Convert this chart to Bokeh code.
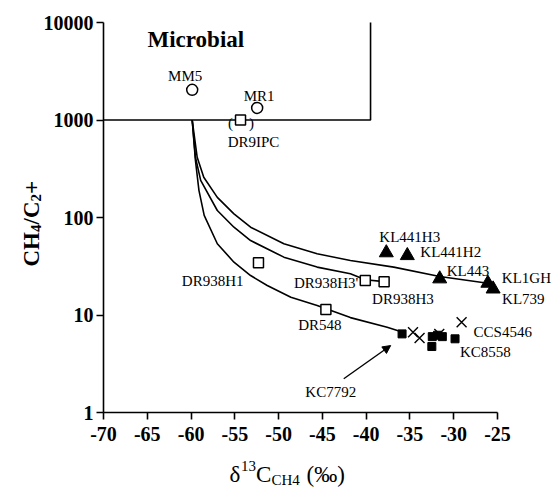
import math
from bokeh.plotting import figure
from bokeh.models import (FixedTicker, PrintfTickFormatter, Label, Arrow, NormalHead)
from bokeh.embed import file_html
from bokeh.resources import INLINE

# ---------------- data ----------------
x_ticks = [-70, -65, -60, -55, -50, -45, -40, -35, -30, -25]
y_ticks = [1, 10, 100, 1000, 10000]

# microbial field boundary
box_x = [-70, -39.5, -39.5]
box_y = [1000, 1000, 10000]

# mixing curves
lower_x = [-59.87, -59.5, -59.1, -58.5, -57.0, -55.1, -53.2, -51.3, -48.6, -45.6, -41.8, -37.6, -35.9]
lower_y = [1000, 384, 190, 105, 53.8, 34.8, 25.4, 20.1, 15.2, 12.5, 9.4, 7.5, 6.7]
middle_x = [-59.87, -59.5, -58.9, -57.0, -55.1, -53.2, -49.4, -45.6, -41.8, -40.1, -37.95]
middle_y = [1000, 415, 240, 118, 79.5, 58, 39.2, 31, 26.5, 23.0, 22.0]
upper_x = [-59.87, -59.3, -58.55, -57.0, -55.1, -53.2, -49.4, -45.6, -41.8, -36.85, -31.6, -26.1, -25.46]
upper_y = [1000, 415, 259, 161, 109, 79.5, 53.7, 42.4, 36.2, 31, 24.8, 21.2, 18.5]

circ_names = ["MM5", "MR1"]
circ_x = [-59.87, -52.45]
circ_y = [2040, 1330]

osq_names = ["DR9IPC", "DR938H1", "DR548", "DR938H3'", "DR938H3"]
osq_x = [-54.35, -52.3, -44.6, -40.1, -37.95]
osq_y = [1000, 34.3, 11.4, 22.6, 21.9]

tri_names = ["KL441H3", "KL441H2", "KL443", "KL1GH", "KL739"]
tri_x = [-37.7, -35.3, -31.6, -26.1, -25.5]
tri_y = [43.5, 40.7, 23.5, 21.2, 18.5]

fsq_x = [-35.9, -32.45, -31.85, -31.3, -32.5, -29.85]
fsq_y = [6.4, 6.0, 6.2, 6.0, 4.75, 5.7]

cross_x = [-34.65, -33.9, -31.65, -29.1]
cross_y = [6.66, 5.8, 6.4, 8.44]

# ---------------- geometry of the page ----------------
W, H = 555, 490
X0_PX, X1_PX = 103, 497      # pixel columns of -70 and -25
Y_TOP, Y_BOT = 22, 412       # pixel rows of 10000 and 1
PPU = (X1_PX - X0_PX) / 45.0
PPD = (Y_BOT - Y_TOP) / 4.0

def px2x(px):
    return -70 + (px - X0_PX) / PPU

def py2y(py):
    return 10 ** ((Y_BOT - py) / PPD)

SERIF = "Liberation Serif"
p = figure(width=W, height=H, x_range=(px2x(0), px2x(W)),
           y_range=(py2y(H), py2y(0)), y_axis_type="log",
           output_backend="svg", toolbar_location=None,
           min_border_left=0, min_border_right=0, min_border_top=0,
           min_border_bottom=0)
p.outline_line_color = None
p.xgrid.visible = False
p.ygrid.visible = False
p.background_fill_color = "white"
p.border_fill_color = "white"

for ax in (p.xaxis[0], p.yaxis[0]):
    ax.axis_line_width = 1.6
    ax.axis_line_color = "black"
    ax.major_tick_line_width = 1.6
    ax.major_tick_line_color = "black"
    ax.major_tick_out = 7
    ax.major_tick_in = 0
    ax.minor_tick_line_color = None
    ax.major_label_text_font = SERIF
    ax.major_label_text_font_style = "bold"
    ax.major_label_text_font_size = "20px"
    ax.major_label_text_color = "black"
    ax.formatter = PrintfTickFormatter(format="%d")
p.xaxis[0].ticker = FixedTicker(ticks=x_ticks)
p.yaxis[0].ticker = FixedTicker(ticks=y_ticks)
p.xaxis[0].fixed_location = 1
p.xaxis[0].bounds = (-70, -25)
p.yaxis[0].fixed_location = -70
p.yaxis[0].bounds = (1, 10000)
p.xaxis[0].major_label_standoff = 7
p.yaxis[0].major_label_standoff = 3

# microbial box
p.line(box_x, box_y, line_color="black", line_width=1.6)

# curves
for cx, cy in ((lower_x, lower_y), (middle_x, middle_y), (upper_x, upper_y)):
    p.line(cx, cy, line_color="black", line_width=1.6)

# markers
p.scatter(circ_x, circ_y, marker="circle", size=11, fill_color="white",
          line_color="black", line_width=1.5)
p.scatter(osq_x, osq_y, marker="square", size=10, fill_color="white",
          line_color="black", line_width=1.5)
p.scatter(tri_x, tri_y, marker="triangle", size=14, fill_color="black",
          line_color="black")
p.scatter(fsq_x, fsq_y, marker="square", size=8, fill_color="black",
          line_color="black")
p.scatter(cross_x, cross_y, marker="x", size=14, line_color="black",
          line_width=1.4)

# point labels: (dx px right, dy px down, align)
def lab(text, x, y, dx, dy, align="center", size="15px"):
    p.add_layout(Label(x=x, y=y, text=text, x_offset=dx, y_offset=-dy,
                       text_align=align, text_baseline="middle",
                       text_font=SERIF, text_font_size=size,
                       text_color="black"))

circ_off = [(-7, -14, "center"), (2, -12, "center")]
for n, x, y, o in zip(circ_names, circ_x, circ_y, circ_off):
    lab(n, x, y, *o)
osq_off = [(13, 22, "center"), (-15, 18, "right"), (-6, 16, "center"),
           (-7, 3, "right"), (-12, 17, "left")]
for n, x, y, o in zip(osq_names, osq_x, osq_y, osq_off):
    lab(n, x, y, *o)
tri_off = [(-7, -16, "left"), (13, -4, "left"), (7, -8, "left"),
           (14, -5, "left"), (9, 10, "left")]
for n, x, y, o in zip(tri_names, tri_x, tri_y, tri_off):
    lab(n, x, y, *o)
lab("CCS4546", cross_x[3], cross_y[3], 12, 10, "left")
lab("KC8558", fsq_x[5], fsq_y[5], 5, 13, "left")
# parentheses round DR9IPC
lab("(", osq_x[0], osq_y[0], -10, 3, "center")
lab(")", osq_x[0], osq_y[0], 11, 3, "center")

# KC7792 arrow
arrow_tail = (-42.56, 2.22)
arrow_head = (-37.2, 4.86)
p.add_layout(Arrow(x_start=arrow_tail[0], y_start=arrow_tail[1],
                   x_end=arrow_head[0], y_end=arrow_head[1],
                   line_color="black", line_width=1.4,
                   end=NormalHead(size=8, fill_color="black", line_color="black")))
lab("KC7792", arrow_tail[0], arrow_tail[1], -13, 13, "center")

# "Microbial"
p.add_layout(Label(x=px2x(147), y=py2y(39), text="Microbial", text_align="left",
                   text_baseline="middle", text_font=SERIF,
                   text_font_style="bold", text_font_size="23px",
                   text_color="black"))

# ---------------- axis titles (built from pieces) ----------------
# x title: δ13C_CH4 (‰)
xt_x, xt_y = px2x(229), py2y(474)
pieces = [("δ", "23px", 0, 0), ("13", "15px", 11.5, 9), ("C", "23px", 26.5, 0),
          ("CH4", "15px", 42, -5), ("(‰)", "23px", 77, 0)]
for t, s, dx, dy in pieces:
    p.add_layout(Label(x=xt_x, y=xt_y, text=t, x_offset=dx, y_offset=dy,
                       text_align="left", text_baseline="alphabetic",
                       text_font=SERIF, text_font_size=s, text_color="black"))

# y title: CH4/C2+ rotated
yt_x, yt_y = px2x(31), py2y(266)
ypieces = [("CH", "23px", 0, 0), ("4", "15px", 4, 34.5), ("/C", "23px", 0, 42),
           ("2", "15px", 4, 65), ("+", "23px", 0, 72.5)]
for t, s, dx, dy in ypieces:
    p.add_layout(Label(x=yt_x, y=yt_y, text=t, x_offset=dx, y_offset=dy,
                       angle=math.pi / 2, text_align="left",
                       text_baseline="alphabetic", text_font=SERIF,
                       text_font_style="bold", text_font_size=s,
                       text_color="black"))

open("out.html", "w").write(file_html(p, INLINE))
